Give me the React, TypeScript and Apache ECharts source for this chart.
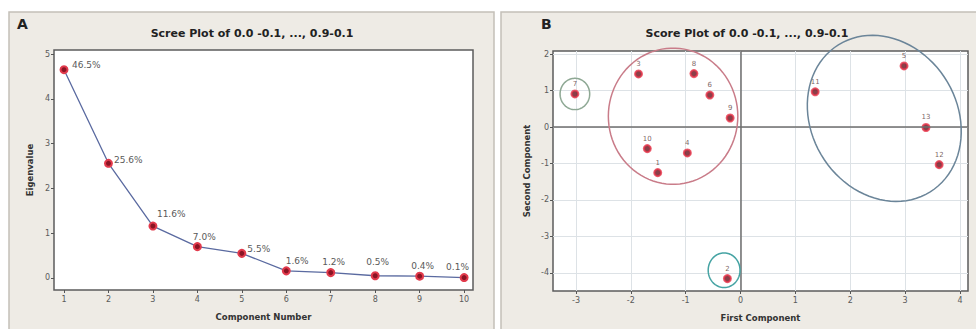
import React, { useEffect, useRef } from "react";
import * as echarts from "echarts";

// ---------- Panel A: scree plot ----------
const componentNumbers = [1, 2, 3, 4, 5, 6, 7, 8, 9, 10];
const eigenvalues = [4.65, 2.56, 1.16, 0.7, 0.55, 0.16, 0.12, 0.05, 0.04, 0.01];
const varianceLabels = ["46.5%", "25.6%", "11.6%", "7.0%", "5.5%", "1.6%", "1.2%", "0.5%", "0.4%", "0.1%"];
const screeYTicks = [0, 1, 2, 3, 4, 5];
const screeXTicks = [1, 2, 3, 4, 5, 6, 7, 8, 9, 10];

// ---------- Panel B: score plot ----------
const sampleIds = ["1", "2", "3", "4", "5", "6", "7", "8", "9", "10", "11", "12", "13"];
const firstComponent = [-1.51, -0.24, -1.86, -0.97, 2.98, -0.56, -3.02, -0.85, -0.19, -1.7, 1.36, 3.62, 3.38];
const secondComponent = [-1.25, -4.16, 1.46, -0.71, 1.68, 0.88, 0.91, 1.47, 0.25, -0.59, 0.97, -1.03, -0.01];
const scoreXTicks = [-3, -2, -1, 0, 1, 2, 3, 4];
const scoreYTicks = [-4, -3, -2, -1, 0, 1, 2];

// group outlines (data units): centre x, centre y, radius x, radius y, rotation (deg)
const groupCenterX = [-3.02, -1.23, -0.3, 2.62];
const groupCenterY = [0.91, 0.3, -3.93, 0.24];
const groupRadiusX = [0.27, 1.18, 0.29, 1.58];
const groupRadiusY = [0.43, 1.87, 0.475, 2.0];
const groupRotation = [0, 0, 0, 58];

// ---------- styles (not data) ----------
const groupColors = ["#8ea894", "#c97c89", "#45a3a3", "#6b8599"];
const percentLabelOffsets: [number, number][] = [
  [12.5, -5], [10, -3.5], [8.5, -12], [0, -10], [10, -4.5],
  [4, -9.5], [-4, -11], [-4.5, -14], [-4, -10.5], [-13.5, -11],
];

const FONT = "DejaVu Sans, sans-serif";
const PANEL_BG = "#eeebe5";

export default function App() {
  const ref = useRef<HTMLDivElement>(null);

  useEffect(() => {
    if (!ref.current) return;
    const chart = echarts.init(ref.current, null, { renderer: "svg" });

    const axisLabelStyle = { color: "#5a5a5a", fontSize: 8, fontFamily: FONT };
    const axisNameStyle = { color: "#333", fontSize: 8.5, fontWeight: "bold" as const, fontFamily: FONT };
    const tickStyle = { show: true, inside: false, length: 3, lineStyle: { color: "#555", width: 1 } };
    const hiddenLine = { show: false, onZero: false };

    const screeData = componentNumbers.map((c, i) => ({
      value: [c, eigenvalues[i]],
      label: {
        show: true,
        formatter: varianceLabels[i],
        position: percentLabelOffsets[i],
        color: "#5a5a5a",
        fontSize: 9,
        fontFamily: FONT,
      },
    }));

    const scoreData = sampleIds.map((id, i) => ({
      value: [firstComponent[i], secondComponent[i]],
      name: id,
    }));

    const groupData = groupCenterX.map((cx, i) => [cx, groupCenterY[i], groupRadiusX[i], groupRadiusY[i], groupRotation[i]]);

    const option: any = {
      animation: false,
      backgroundColor: "#ffffff",
      textStyle: { fontFamily: FONT },
      graphic: [
        { type: "rect", z: -10, shape: { x: 9, y: 12, width: 485, height: 330 }, style: { fill: PANEL_BG, stroke: "#c4c0b8", lineWidth: 1.5 } },
        { type: "rect", z: -10, shape: { x: 501, y: 12, width: 480, height: 330 }, style: { fill: PANEL_BG, stroke: "#c4c0b8", lineWidth: 1.5 } },
        { type: "text", z: 100, x: 17, y: 17, style: { text: "A", font: `bold 14px ${FONT}`, fill: "#222" } },
        { type: "text", z: 100, x: 541, y: 17, style: { text: "B", font: `bold 14px ${FONT}`, fill: "#222" } },
        { type: "text", z: 100, x: 252, y: 33, style: { text: "Scree Plot of 0.0 -0.1, ..., 0.9-0.1", font: `bold 11px ${FONT}`, fill: "#222", align: "center", verticalAlign: "middle" } },
        { type: "text", z: 100, x: 747, y: 33, style: { text: "Score Plot of 0.0 -0.1, ..., 0.9-0.1", font: `bold 11px ${FONT}`, fill: "#222", align: "center", verticalAlign: "middle" } },
      ],
      grid: [
        { left: 54, top: 50, width: 419, height: 240, show: true, backgroundColor: "#ffffff", borderColor: "#5c5c5c", borderWidth: 1.5 },
        { left: 553, top: 51, width: 415, height: 240, show: true, backgroundColor: "#ffffff", borderColor: "#5c5c5c", borderWidth: 1.5 },
      ],
      xAxis: [
        {
          type: "value", gridIndex: 0, min: 0.775, max: 10.2, splitNumber: 9,
          name: "Component Number", nameLocation: "middle", nameGap: 22, nameTextStyle: axisNameStyle,
          axisLine: hiddenLine, axisTick: { ...tickStyle, customValues: screeXTicks },
          axisLabel: { ...axisLabelStyle, margin: 5, customValues: screeXTicks },
          splitLine: { show: false },
        },
        {
          type: "value", gridIndex: 1, min: -3.419, max: 4.146, splitNumber: 7,
          name: "First Component", nameLocation: "middle", nameGap: 22, nameTextStyle: axisNameStyle,
          axisLine: hiddenLine, axisTick: { ...tickStyle, customValues: scoreXTicks },
          axisLabel: { ...axisLabelStyle, margin: 5, customValues: scoreXTicks },
          splitLine: { show: true, lineStyle: { color: "#dde2e6", width: 1 } },
        },
      ],
      yAxis: [
        {
          type: "value", gridIndex: 0, min: -0.268, max: 5.09, splitNumber: 5,
          name: "Eigenvalue", nameLocation: "middle", nameGap: 20, nameTextStyle: axisNameStyle,
          axisLine: hiddenLine, axisTick: { ...tickStyle, customValues: screeYTicks },
          axisLabel: { ...axisLabelStyle, margin: 4, customValues: screeYTicks },
          splitLine: { show: false },
        },
        {
          type: "value", gridIndex: 1, min: -4.5, max: 2.09, splitNumber: 6,
          name: "Second Component", nameLocation: "middle", nameGap: 22, nameTextStyle: axisNameStyle,
          axisLine: hiddenLine, axisTick: { ...tickStyle, customValues: scoreYTicks },
          axisLabel: { ...axisLabelStyle, margin: 4, customValues: scoreYTicks },
          splitLine: { show: true, lineStyle: { color: "#dde2e6", width: 1 } },
        },
      ],
      series: [
        {
          type: "line", xAxisIndex: 0, yAxisIndex: 0, data: screeData,
          symbol: "circle", symbolSize: 7, showAllSymbol: true,
          lineStyle: { color: "#5a6aa0", width: 1.3 },
          itemStyle: { color: "#8a1424", borderColor: "#e23a4c", borderWidth: 2 },
          z: 3,
        },
        {
          type: "scatter", xAxisIndex: 1, yAxisIndex: 1, data: scoreData,
          symbol: "circle", symbolSize: 7,
          itemStyle: { color: "#6e0f1c", borderColor: "#e8344a", borderWidth: 2 },
          label: { show: true, position: "top", distance: 2, formatter: "{b}", color: "#5a3a3a", fontSize: 7, fontFamily: FONT },
          markLine: {
            silent: true, symbol: "none", label: { show: false },
            lineStyle: { color: "#6e6e6e", width: 1.5, type: "solid" },
            data: [{ xAxis: 0 }, { yAxis: 0 }],
          },
          z: 4,
        },
        {
          type: "custom", xAxisIndex: 1, yAxisIndex: 1, data: groupData, clip: false, silent: true,
          encode: { x: 0, y: 1 },
          renderItem: (params: any, api: any) => {
            const c = api.coord([api.value(0), api.value(1)]);
            const s = api.size([api.value(2), api.value(3)]);
            const ang = (api.value(4) * Math.PI) / 180;
            const pts: number[][] = [];
            const n = 90;
            for (let k = 0; k < n; k++) {
              const t = (k / n) * Math.PI * 2;
              const x = s[0] * Math.cos(t);
              const y = s[1] * Math.sin(t);
              pts.push([c[0] + x * Math.cos(ang) - y * Math.sin(ang), c[1] + x * Math.sin(ang) + y * Math.cos(ang)]);
            }
            return {
              type: "polygon",
              shape: { points: pts },
              style: { fill: "none", stroke: groupColors[params.dataIndex], lineWidth: 1.5 },
            };
          },
          z: 5,
        },
      ],
    };

    chart.setOption(option);
    return () => chart.dispose();
  }, []);

  return <div ref={ref} style={{ position: "absolute", left: 0, top: 0, width: 976, height: 329 }} />;
}
